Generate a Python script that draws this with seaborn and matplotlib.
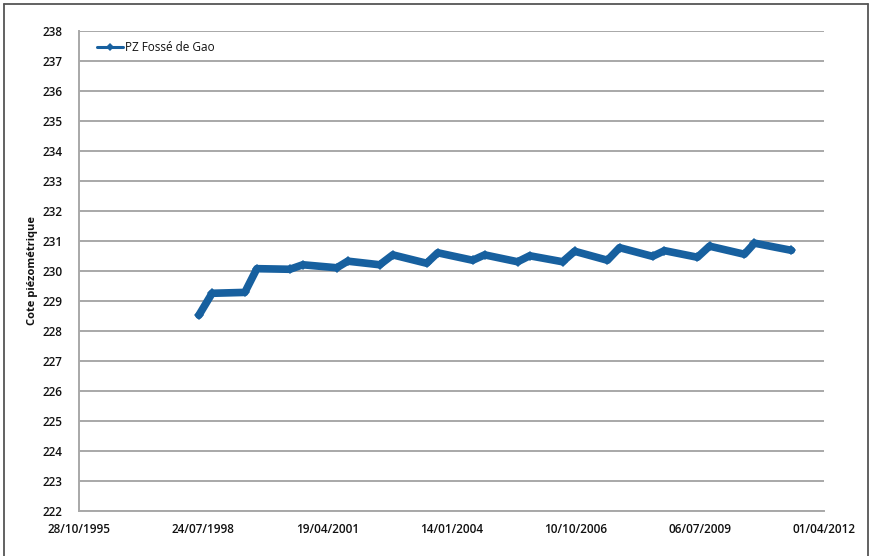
import matplotlib
matplotlib.use("Agg")
import matplotlib.pyplot as plt
import matplotlib.dates as mdates
from matplotlib.lines import Line2D
import seaborn as sns
import pandas as pd

# Piezometric level readings (date, level in m)
dates = [
    "1998-06-20", "1998-10-04", "1999-06-25", "1999-09-30", "2000-06-22",
    "2000-10-04", "2001-07-05", "2001-10-01", "2002-06-16", "2002-09-29",
    "2003-06-29", "2003-09-26", "2004-07-04", "2004-10-08", "2005-07-01",
    "2005-10-06", "2006-06-28", "2006-10-03", "2007-06-25", "2007-09-30",
    "2008-06-22", "2008-09-26", "2009-06-19", "2009-09-24", "2010-07-02",
    "2010-09-21", "2011-07-16",
]
levels = [
    228.52, 229.25, 229.28, 230.07, 230.05,
    230.20, 230.10, 230.32, 230.20, 230.53,
    230.25, 230.60, 230.35, 230.53, 230.30,
    230.50, 230.30, 230.65, 230.35, 230.77,
    230.48, 230.67, 230.45, 230.82, 230.55,
    230.92, 230.68,
]
series_name = "PZ Fossé de Gao"
x_tick_dates = ["1995-10-28", "1998-07-24", "2001-04-19", "2004-01-14",
                "2006-10-10", "2009-07-06", "2012-04-01"]
y_ticks = list(range(222, 239))

df = pd.DataFrame({"date": pd.to_datetime(dates), "level": levels,
                   "serie": series_name})

sns.set_theme(style="white")
plt.rcParams["font.family"] = ["Open Sans", "DejaVu Sans"]

fig = plt.figure(figsize=(8.71, 5.56), dpi=100)
ax = fig.add_axes([0.0907, 0.081, 0.855, 0.864])

blue = "#17609f"
sns.lineplot(data=df, x="date", y="level", hue="serie", palette=[blue],
             ax=ax, linewidth=5.5, marker="D", markersize=5,
             markeredgewidth=0, markerfacecolor=blue)

ax.set_xlim(pd.Timestamp(x_tick_dates[0]), pd.Timestamp(x_tick_dates[-1]))
ax.set_ylim(y_ticks[0], y_ticks[-1])
ax.set_yticks(y_ticks)
ax.set_xticks(pd.to_datetime(x_tick_dates))
ax.xaxis.set_major_formatter(mdates.DateFormatter("%d/%m/%Y"))

ax.grid(axis="y", color="#a8a8a8", linewidth=1.4)
ax.grid(axis="x", visible=False)
for side in ["top", "right"]:
    ax.spines[side].set_visible(False)
for side in ["left", "bottom"]:
    ax.spines[side].set_color("#a8a8a8")
    ax.spines[side].set_linewidth(1.4)

ax.tick_params(axis="both", length=0, labelsize=8.5, colors="#111111")
for lbl in ax.get_xticklabels() + ax.get_yticklabels():
    lbl.set_fontweight("semibold")
ax.tick_params(axis="y", pad=12)
ax.tick_params(axis="x", pad=9)
ax.set_xlabel("")
ax.set_ylabel("Cote piézométrique", fontsize=8, fontweight="bold",
              color="#111111", labelpad=3)

handle = Line2D([], [], color=blue, linewidth=2.2, marker="D", markersize=4,
                markeredgewidth=0)
leg = ax.legend([handle], [series_name], loc="upper left", frameon=False,
                fontsize=8.5, handlelength=2.2, handletextpad=0.2,
                bbox_to_anchor=(0.01, 1.0))
for t in leg.get_texts():
    t.set_fontweight("medium")
    t.set_color("#111111")

# outer frame
frame_color = "#555555"
fig.add_artist(Line2D([0.005, 0.005], [0.0, 0.993], color=frame_color,
                      linewidth=1.3, transform=fig.transFigure))
fig.add_artist(Line2D([0.005, 0.997], [0.993, 0.993], color=frame_color,
                      linewidth=1.3, transform=fig.transFigure))
fig.add_artist(Line2D([0.997, 0.997], [0.0, 0.993], color=frame_color,
                      linewidth=1.3, transform=fig.transFigure))

fig.savefig("out.png", dpi=100)
